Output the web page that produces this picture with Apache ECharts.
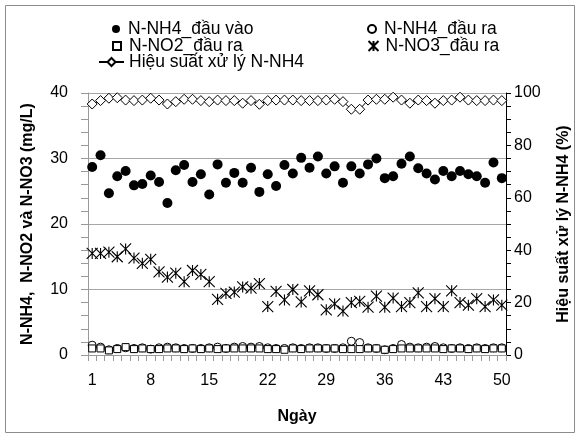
<!DOCTYPE html>
<html><head><meta charset="utf-8">
<script src="https://cdn.jsdelivr.net/npm/echarts@6/dist/echarts.min.js"></script>
<style>html,body{margin:0;padding:0;background:#fff}#c{width:580px;height:437px}</style>
</head><body><div id="c"></div>
<script>
const days = Array.from({length:50},(_,i)=>String(i+1));
const nh4In = [28.7,30.5,24.7,27.3,28.1,25.9,26.1,27.4,26.4,23.2,28.2,29.0,26.4,27.6,24.5,29.1,26.3,27.8,26.3,28.6,24.9,27.6,25.8,29.0,27.7,30.1,28.6,30.3,27.7,28.8,26.3,28.8,27.7,29.1,30.0,27.0,27.3,29.2,30.3,28.5,27.7,26.8,28.1,27.3,28.1,27.6,27.3,26.3,29.4,27.0];
const nh4Out = [1.5,1.2,0.8,1.0,1.1,1.0,1.1,0.9,1.1,1.2,1.1,1.0,1.0,1.0,1.1,1.2,1.0,1.2,1.3,1.2,1.3,1.1,1.0,1.0,1.1,1.0,1.1,1.1,1.0,1.0,1.1,2.1,1.9,1.1,1.0,0.8,1.0,1.6,1.2,1.1,1.2,1.3,1.1,1.0,1.1,1.0,1.1,1.0,1.1,1.1];
const no2Out = [1.0,1.0,0.7,0.9,1.2,0.9,1.0,0.9,0.9,1.0,1.0,0.9,1.0,0.9,1.0,0.9,1.0,1.0,1.0,1.0,1.0,0.9,0.9,0.8,1.0,0.9,1.0,1.0,1.0,1.0,0.9,0.9,0.9,1.0,1.0,0.8,0.9,1.0,1.0,1.0,1.0,1.0,0.9,1.0,1.0,0.9,1.0,0.9,1.0,1.0];
const no3Out = [15.5,15.5,15.7,15.0,16.2,14.8,14.0,14.6,12.7,11.9,12.5,11.2,12.9,12.3,11.2,8.5,9.4,9.6,10.4,10.2,10.9,7.4,9.7,8.4,10.0,8.1,9.8,9.2,6.9,7.8,6.7,8.0,8.2,7.3,9.0,7.3,8.7,7.4,8.0,9.5,7.4,8.6,7.4,9.8,8.0,7.6,8.6,7.4,8.4,7.6];
const efficiency = [95.8,97.1,98.0,98.2,97.3,97.1,97.3,98.0,97.3,95.8,96.7,97.6,97.6,97.1,96.7,97.3,97.1,97.1,96.1,97.1,95.7,97.1,97.3,97.3,97.3,97.1,97.1,97.1,97.3,97.6,96.7,93.8,93.8,97.3,97.6,97.6,98.4,97.3,96.1,97.3,97.1,96.1,97.1,97.3,98.4,97.3,97.1,97.1,97.3,97.1];
const names = ['N-NH4_đầu vào','N-NH4_đầu ra','N-NO2_đầu ra','N-NO3_đầu ra','Hiệu suất xử lý N-NH4'];

const FONT = '"Liberation Sans", Arial, sans-serif';
const ast = 'path://M0,0L10,10M10,0L0,10M5,0L5,10';
const chart = echarts.init(document.getElementById('c'), null, {renderer:'canvas'});
const lg = (name, left, top, w, h, pad) => ({
  data:[name], left:left, top:top, itemWidth:w, itemHeight:h, padding:0,
  textStyle:{fontFamily:FONT, fontSize:17.5, color:'#000', padding:[0,0,0,pad]}, selectedMode:false
});
chart.setOption({
  animation:false,
  textStyle:{fontFamily:FONT},
  graphic:[{type:'rect', shape:{x:5.5,y:5.5,width:569,height:427}, style:{fill:'none', stroke:'#8c8c8c', lineWidth:1}, silent:true}],
  legend:[
    lg(names[0],112,20,8,8,3),
    lg(names[1],367,20,8,8,3),
    lg(names[2],112,37,8,8,3),
    lg(names[3],366,37,10,10,2),
    lg(names[4],98,53,25,10,0)
  ],
  grid:{left:88, right:72.5, top:93, bottom:82},
  xAxis:{type:'category', data:days, boundaryGap:true,
    axisLine:{lineStyle:{color:'#999'}},
    axisTick:{show:true, interval:0, length:6, lineStyle:{color:'#999'}},
    axisLabel:{interval:6, color:'#000', fontSize:16, margin:18, fontFamily:FONT},
    name:'Ngày', nameLocation:'middle', nameGap:54,
    nameTextStyle:{fontWeight:'bold', fontSize:16, color:'#000', fontFamily:FONT}
  },
  yAxis:[
    {type:'value', min:0, max:40, interval:10, position:'left',
     axisLine:{show:true, lineStyle:{color:'#999'}},
     axisTick:{show:true, length:7, lineStyle:{color:'#999'}},
     minorTick:{show:true, splitNumber:5, length:7, lineStyle:{color:'#999'}},
     splitLine:{show:true, lineStyle:{color:'#a6a6a6'}},
     axisLabel:{color:'#000', fontSize:16, margin:20, fontFamily:FONT},
     name:'N-NH4,  N-NO2 và N-NO3 (mg/L)', nameLocation:'middle', nameGap:52, nameRotate:90,
     nameTextStyle:{fontWeight:'bold', fontSize:16, color:'#000', fontFamily:FONT}
    },
    {type:'value', min:0, max:100, interval:20, position:'right',
     axisLine:{show:true, lineStyle:{color:'#000'}},
     axisTick:{show:true, length:5, lineStyle:{color:'#000'}},
     minorTick:{show:true, splitNumber:4, length:5, lineStyle:{color:'#000'}},
     splitLine:{show:false},
     axisLabel:{color:'#000', fontSize:16, margin:8, fontFamily:FONT},
     name:'Hiệu suất xử lý N-NH4 (%)', nameLocation:'middle', nameGap:50, nameRotate:90,
     nameTextStyle:{fontWeight:'bold', fontSize:16, color:'#000', fontFamily:FONT}
    }
  ],
  series:[
    {name:names[0], type:'scatter', data:nh4In, symbol:'circle', symbolSize:10, itemStyle:{color:'#000', opacity:1}},
    {name:names[1], type:'scatter', data:nh4Out, symbol:'circle', symbolSize:8, itemStyle:{color:'#fff', borderColor:'#000', borderWidth:1, opacity:1}},
    {name:names[2], type:'scatter', data:no2Out, symbol:'rect', symbolSize:7, itemStyle:{color:'#fff', borderColor:'#000', borderWidth:1, opacity:1}},
    {name:names[3], type:'scatter', data:no3Out, symbol:ast, symbolSize:[11,11], itemStyle:{color:'none', borderColor:'#000', borderWidth:1.1, opacity:1}},
    {name:names[4], type:'line', yAxisIndex:1, data:efficiency, symbol:'diamond', symbolSize:[10,10], showAllSymbol:true,
     itemStyle:{color:'#fff', borderColor:'#000', borderWidth:1, opacity:1}, lineStyle:{color:'#000', width:1}}
  ]
});
</script></body></html>
